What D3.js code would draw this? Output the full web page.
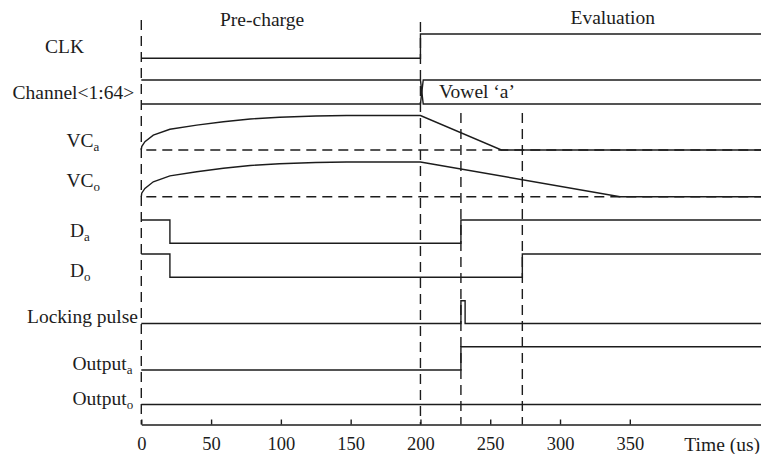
<!DOCTYPE html>
<html lang="en">
<head>
<meta charset="UTF-8" />
<title>Timing diagram</title>
<style>
  body { margin: 0; background: #fff; }
  svg { display: block; }
  text { font-family: "Liberation Serif", Tinos, "Times New Roman", "DejaVu Serif", serif; fill: #1c1c1c; }
  .wave { fill: none; stroke: #1c1c1c; stroke-width: 1.4px; }
  .dash { fill: none; stroke: #1c1c1c; stroke-width: 1.4px; stroke-dasharray: 10,6; }
  .axis path, .axis line { stroke: #1c1c1c; stroke-width: 1.4px; }
</style>
</head>
<body>
<svg id="chart" width="761" height="454"></svg>
<script src="https://cdn.jsdelivr.net/npm/d3@7"></script>
<script>
// time span of the plot (us)
const tMax = 444;
const tickValues = [0, 50, 100, 150, 200, 250, 300, 350];
const axisTitle = "Time (us)";
const phases = ["Pre-charge", "Evaluation"];
const busLabel = "Vowel \u2018a\u2019";

// marker times for the vertical dashed lines
const markers = [0, 200, 229, 273];

// digital signals: [time, level]
const clk = [[0, 0], [200, 1], [tMax, 1]];
const da = [[0, 1], [20.5, 0], [229, 1], [tMax, 1]];
const dout = [[0, 1], [20.5, 0], [273, 1], [tMax, 1]];
const lockPulse = [[0, 0], [229, 1], [232, 0], [tMax, 0]];
const outA = [[0, 0], [229, 1], [tMax, 1]];
const outO = [[0, 0], [tMax, 0]];

// bus lines (crossing at 200)
const busLine1 = [[0, 1], [200, 1], [202, 0], [tMax, 0]];
const busLine2 = [[0, 0], [200, 0], [202, 1], [tMax, 1]];

// analog capacitor voltages, normalised 0..1
const vcA = [[0, 0], [0.3, 0.1], [2.6, 0.24], [8.6, 0.43], [20.5, 0.6], [39.7, 0.72],
             [58.8, 0.82], [78, 0.9], [99, 0.95], [125, 0.985], [147, 1], [200, 1], [258, 0], [tMax, 0]];
const vcO = [[0, 0], [0.3, 0.1], [2.6, 0.24], [8.6, 0.43], [20.5, 0.6], [39.7, 0.72],
             [58.8, 0.82], [78, 0.9], [99, 0.95], [125, 0.985], [147, 1], [200, 1], [343, 0], [tMax, 0]];

const FONT = "'Liberation Serif', Tinos, 'Times New Roman', 'DejaVu Serif', serif";
const svg = d3.select("#chart");
const x = d3.scaleLinear().domain([0, tMax]).range([141.3, 761]);
const axisY = 424.5;

// rows: hi / lo pixel positions
const rows = [
  { name: "CLK", sub: "", data: clk, hi: 34, lo: 58.3, lx: 45, ly: 53.3 },
  { name: "Channel<1:64>", sub: "", hi: 80, lo: 104, lx: 12.5, ly: 99 },
  { name: "VC", sub: "a", data: vcA, hi: 115.5, lo: 150, lx: 66.5, ly: 146.7, analog: true },
  { name: "VC", sub: "o", data: vcO, hi: 162, lo: 196.7, lx: 66.5, ly: 186.7, analog: true },
  { name: "D", sub: "a", data: da, hi: 220, lo: 243.3, lx: 70, ly: 237.3 },
  { name: "D", sub: "o", data: dout, hi: 254, lo: 277.3, lx: 70, ly: 277.3 },
  { name: "Locking pulse", sub: "", data: lockPulse, hi: 300.7, lo: 323.5, lx: 27, ly: 323 },
  { name: "Output", sub: "a", data: outA, hi: 346.7, lo: 370, lx: 72.5, ly: 370 },
  { name: "Output", sub: "o", data: outO, hi: 381, lo: 404.5, lx: 72.5, ly: 405 }
];
const markerTop = [20, 22, 113, 113];

// vertical dashed markers
svg.selectAll("line.marker")
  .data(markers)
  .enter().append("line")
  .attr("class", "dash marker")
  .attr("x1", d => x(d)).attr("x2", d => x(d))
  .attr("y1", (d, i) => markerTop[i]).attr("y2", axisY);

rows.forEach(r => {
  const y = d3.scaleLinear().domain([0, 1]).range([r.lo, r.hi]);
  if (r.analog) {
    svg.append("line").attr("class", "dash")
      .attr("x1", x(0) + 5).attr("x2", x(tMax))
      .attr("y1", r.lo).attr("y2", r.lo);
  }
  const line = d3.line()
    .x(d => x(d[0])).y(d => y(d[1]))
    .curve(r.analog ? d3.curveLinear : d3.curveStepAfter);
  if (r.data) {
    svg.append("path").attr("class", "wave").attr("d", line(r.data));
  } else {
    const busLine = d3.line().x(d => x(d[0])).y(d => y(d[1]));
    [busLine1, busLine2].forEach(b => {
      svg.append("path").attr("class", "wave").attr("d", busLine(b));
    });
  }
  const t = svg.append("text").attr("x", r.lx).attr("y", r.ly)
    .style("font-family", FONT).style("font-size", "19.5px");
  t.append("tspan").text(r.name);
  if (r.sub) t.append("tspan").attr("dy", 4).style("font-size", "13px").text(r.sub);
});

// phase labels and bus label
svg.append("text").attr("x", 220).attr("y", 26).style("font-family", FONT).style("font-size", "19.5px").text(phases[0]);
svg.append("text").attr("x", 570.5).attr("y", 24.3).style("font-family", FONT).style("font-size", "19.5px").text(phases[1]);
svg.append("text").attr("x", 439).attr("y", 98.3).style("font-family", FONT).style("font-size", "19.5px").text(busLabel);

// time axis
const axis = d3.axisBottom(x)
  .tickValues(tickValues)
  .tickSizeInner(-5)
  .tickSizeOuter(0)
  .tickPadding(12);
const gAxis = svg.append("g").attr("class", "axis")
  .attr("transform", `translate(0,${axisY})`)
  .call(axis);
gAxis.attr("font-family", null);
gAxis.selectAll("text")
  .style("font-family", FONT)
  .style("font-size", "18.5px")
  .attr("fill", "#1c1c1c");
svg.append("text").attr("x", 760).attr("y", 450.5)
  .attr("text-anchor", "end").style("font-family", FONT).style("font-size", "19.5px").text(axisTitle);
</script>
</body>
</html>
